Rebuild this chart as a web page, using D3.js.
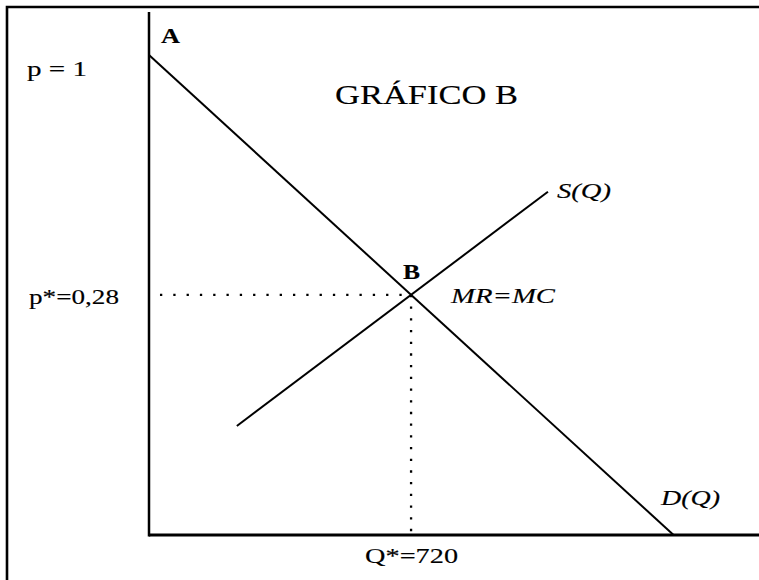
<!DOCTYPE html>
<html>
<head>
<meta charset="utf-8">
<script src="https://cdn.jsdelivr.net/npm/d3@7"></script>
<style>
body { margin: 0; background: #fff; }
text { font-family: "Liberation Serif", "Times New Roman", serif; fill: #000; stroke: #000; stroke-width: 0.15px; }
</style>
</head>
<body>
<svg id="chart" width="759" height="580"></svg>
<script>
// schematic units, Q and p both on a 0..100 grid
var demandQ = [0, 86.0];
var demandP = [100.4, 0];
var supplyQ = [14.4, 65.4];
var supplyP = [22.8, 71.8];

var title = "GRÁFICO B";
var priceLabels = ["p = 1", "p*=0,28"];
var qtyLabel = "Q*=720";
var curveLabels = ["S(Q)", "D(Q)", "MR=MC"];
var pointLabels = ["A", "B"];

var svg = d3.select("#chart");

var x = d3.scaleLinear().domain([0, 100]).range([149, 759]);
var y = d3.scaleLinear().domain([0, 100]).range([535, 57]);

// frame round the picture (top and left edges only show)
svg.append("path")
    .attr("d", "M7,580 L7,7 L759,7")
    .attr("fill", "none")
    .attr("stroke", "#000")
    .attr("stroke-width", 2.6);

// axes
svg.append("line")
    .attr("x1", x(0)).attr("x2", x(0))
    .attr("y1", y(0) + 1.5).attr("y2", y(109.4))
    .attr("stroke", "#000").attr("stroke-width", 2.5);
svg.append("line")
    .attr("x1", x(0)).attr("x2", x(100))
    .attr("y1", y(0)).attr("y2", y(0))
    .attr("stroke", "#000").attr("stroke-width", 3);

var line = d3.line()
    .x(function(d) { return x(d[0]); })
    .y(function(d) { return y(d[1]); });

var demand = d3.zip(demandQ, demandP);
var supply = d3.zip(supplyQ, supplyP);

// equilibrium: where the two lines cross
var md = (demandP[1] - demandP[0]) / (demandQ[1] - demandQ[0]);
var ms = (supplyP[1] - supplyP[0]) / (supplyQ[1] - supplyQ[0]);
var bd = demandP[0] - md * demandQ[0];
var bs = supplyP[0] - ms * supplyQ[0];
var eqQ = (bs - bd) / (md - ms);
var eqP = md * eqQ + bd;

// dotted guides
svg.append("line")
    .attr("x1", x(1.8)).attr("x2", x(eqQ))
    .attr("y1", y(eqP)).attr("y2", y(eqP))
    .attr("stroke", "#000").attr("stroke-width", 2.3)
    .attr("stroke-dasharray", "2.3,11");
svg.append("line")
    .attr("x1", x(eqQ)).attr("x2", x(eqQ))
    .attr("y1", y(eqP)).attr("y2", y(0))
    .attr("stroke", "#000").attr("stroke-width", 2.3)
    .attr("stroke-dasharray", "2.3,9.4");

svg.append("path").datum(demand)
    .attr("d", line).attr("fill", "none")
    .attr("stroke", "#000").attr("stroke-width", 2);
svg.append("path").datum(supply)
    .attr("d", line).attr("fill", "none")
    .attr("stroke", "#000").attr("stroke-width", 2);

function label(txt, px, py, w, size, opts) {
    opts = opts || {};
    var t = svg.append("text")
        .attr("x", px).attr("y", py)
        .attr("font-size", size + "px")
        .text(txt);
    if (opts.italic) t.attr("font-style", "italic");
    if (opts.bold) t.attr("font-weight", "bold");
    if (w) t.attr("textLength", w).attr("lengthAdjust", "spacingAndGlyphs");
    return t;
}

label(title, 335, 104, 183, 28);
label(pointLabels[0], 161, 43, 19, 21, {bold: true});
label(pointLabels[1], x(eqQ) - 8, y(eqP) - 16, 17, 21, {bold: true});
label(priceLabels[0], 27, 76, 60, 22);
label(priceLabels[1], 29, y(eqP) + 9, 90, 22);
label(qtyLabel, x(eqQ) - 46, 563, 93, 22);
label(curveLabels[0], 557, 198, 54, 22, {italic: true});
label(curveLabels[1], 661, 505, 59, 22, {italic: true});
label(curveLabels[2], 451, y(eqP) + 8, 104, 22, {italic: true});
</script>
</body>
</html>
